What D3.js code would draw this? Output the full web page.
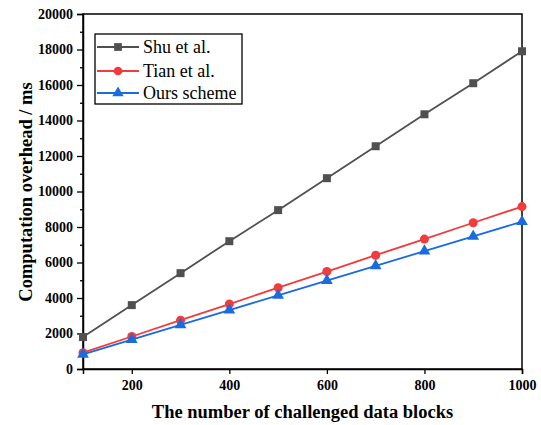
<!DOCTYPE html>
<html>
<head>
<meta charset="utf-8">
<script src="https://cdn.jsdelivr.net/npm/d3@7"></script>
<style>
  body { margin: 0; background: #fff; }
  svg { display: block; }
  text { font-family: "Liberation Serif", "Times New Roman", serif; }
  .tick text { font-weight: bold; font-size: 14px; fill: #000; }
</style>
</head>
<body>
<svg width="541" height="425"></svg>
<script>
const blocks = [100, 200, 300, 400, 500, 600, 700, 800, 900, 1000];
const shu  = [1800, 3600, 5400, 7200, 8950, 10750, 12550, 14350, 16100, 17900];
const tian = [920, 1830, 2750, 3660, 4580, 5490, 6410, 7320, 8240, 9150];
const ours = [830, 1660, 2490, 3320, 4150, 4980, 5810, 6640, 7470, 8300];
const seriesNames = ["Shu et al.", "Tian et al.", "Ours scheme"];
const colors = ["#505050", "#f03c3c", "#1a6be0"];
const shapes = [d3.symbolSquare, d3.symbolCircle, d3.symbolTriangle];
const xTicks = [200, 400, 600, 800, 1000];
const yTicks = d3.range(0, 20001, 2000);
const serif = "'Liberation Serif', 'Times New Roman', serif";

const svg = d3.select("svg");
const m = {left: 83, right: 522, top: 14, bottom: 369};
const x = d3.scaleLinear().domain([100, 1000]).range([m.left, m.right]);
const y = d3.scaleLinear().domain([0, 20000]).range([m.bottom, m.top]);

// frame
svg.append("rect").attr("x", m.left).attr("y", m.top)
  .attr("width", m.right - m.left).attr("height", m.bottom - m.top)
  .attr("fill", "none").attr("stroke", "#000").attr("stroke-width", 1.5);

// axes
svg.append("g").attr("transform", "translate(0," + m.bottom + ")")
  .call(d3.axisBottom(x).tickValues(xTicks).tickSize(5).tickPadding(6).tickFormat(d3.format("d")))
  .attr("font-family", serif);
svg.append("g").attr("transform", "translate(" + m.left + ",0)")
  .call(d3.axisLeft(y).tickValues(yTicks).tickSize(6).tickPadding(4).tickFormat(d3.format("d")))
  .attr("font-family", serif);
// minor y ticks
svg.append("g").attr("transform", "translate(" + m.left + ",0)")
  .call(d3.axisLeft(y).tickValues(d3.range(1000, 20000, 2000)).tickSize(3).tickFormat(""))
  .select(".domain").remove();
svg.selectAll(".domain").attr("stroke-width", 1.5);
svg.selectAll(".tick line").attr("stroke-width", 1.3);

// titles
svg.append("text").attr("x", (m.left + m.right) / 2).attr("y", 418)
  .attr("text-anchor", "middle").attr("font-weight", "bold").attr("font-size", 18.5)
  .text("The number of challenged data blocks");
svg.append("text").attr("transform", "translate(32,192) rotate(-90)")
  .attr("text-anchor", "middle").attr("font-weight", "bold").attr("font-size", 18.5)
  .text("Computation overhead / ms");

// series
const allSeries = [shu, tian, ours];
const line = d3.line().x((d, i) => x(blocks[i])).y(d => y(d));
allSeries.forEach((vals, k) => {
  svg.append("path").datum(vals).attr("d", line)
    .attr("fill", "none").attr("stroke", colors[k]).attr("stroke-width", 1.8);
  svg.append("g").selectAll("path").data(vals).enter().append("path")
    .attr("transform", (d, i) => "translate(" + x(blocks[i]) + "," + y(d) + ")")
    .attr("d", d3.symbol().type(shapes[k]).size(k === 2 ? 60 : 64))
    .attr("fill", colors[k]);
});

// legend
const lg = svg.append("g");
lg.append("rect").attr("x", 95).attr("y", 34).attr("width", 147).attr("height", 70)
  .attr("fill", "#fff").attr("stroke", "#000").attr("stroke-width", 1.3);
const rowsY = [47, 71, 93];
seriesNames.forEach((name, k) => {
  lg.append("line").attr("x1", 97).attr("x2", 139).attr("y1", rowsY[k]).attr("y2", rowsY[k])
    .attr("stroke", colors[k]).attr("stroke-width", 1.8);
  lg.append("path").attr("transform", "translate(118," + rowsY[k] + ")")
    .attr("d", d3.symbol().type(shapes[k]).size(k === 2 ? 55 : 60)).attr("fill", colors[k]);
  lg.append("text").attr("x", 143).attr("y", rowsY[k] + 6).attr("font-size", 18)
    .text(name);
});
</script>
</body>
</html>
